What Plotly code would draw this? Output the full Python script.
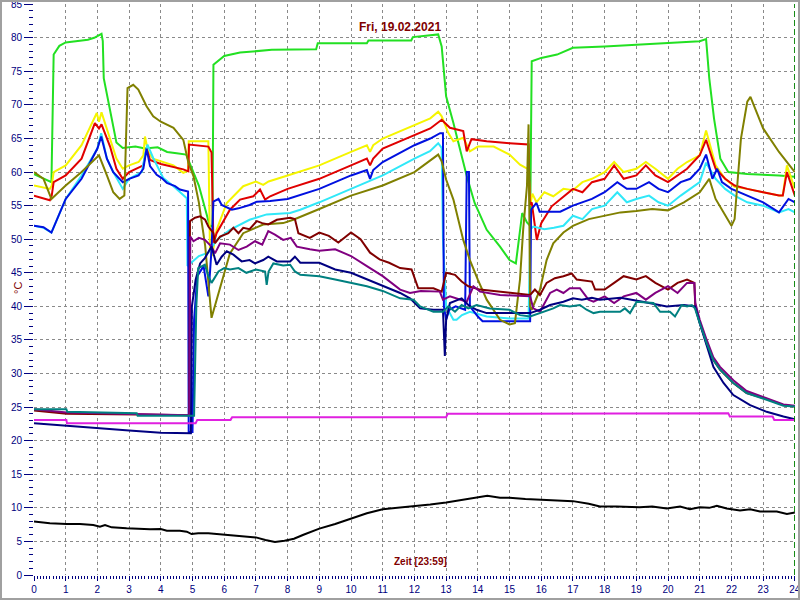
import plotly.graph_objects as go

# ---------------- data (hours, °C) ----------------
HOUR_TICKS = list(range(0, 25))
TEMP_TICKS = list(range(0, 90, 5))
TITLE = "Fri, 19.02.2021"
XLABEL = "Zeit [23:59]"
YLABEL = "°C"

green_t = [0, 0.55, 0.62, 0.8, 1.0, 1.3, 1.7, 1.9, 2.13, 2.17, 2.2, 2.6, 2.8, 3.2, 3.5, 3.9, 4.2, 4.5, 4.8,
           5.2, 5.55, 5.63, 5.66, 6.0, 6.5, 7.5, 8.9, 8.95, 10.5, 10.55, 11.9, 11.95, 12.75, 12.86, 13.0,
           13.23, 13.5, 13.65, 13.9, 14.28, 14.7, 15.0, 15.2, 15.4, 15.55, 15.65, 15.7, 16.0, 16.5, 17.0,
           18.0, 19.0, 20.0, 21.0, 21.2, 21.3, 21.45, 21.65, 21.9, 22.5, 23.5, 24.0]
green_v = [59.7, 58.5, 77.5, 78.8, 79.3, 79.5, 79.7, 80.0, 80.6, 79.5, 74.0, 64.4, 63.6, 63.8, 63.5, 63.7, 63.0,
           62.8, 62.6, 58.0, 51.9, 52.0, 76.0, 77.3, 77.8, 78.2, 78.3, 79.2, 79.2, 79.6, 79.6, 80.1, 80.5,
           78.7, 71.3, 67.3, 62.3, 59.4, 55.4, 51.4, 48.9, 46.9, 46.4, 53.9, 52.5, 52.0, 76.5, 77.0, 77.5,
           78.5, 78.7, 79.0, 79.2, 79.5, 79.8, 74.0, 68.0, 62.0, 60.0, 59.7, 59.5, 59.3]

yellow_t = [0, 0.5, 0.56, 0.62, 1.0, 1.5, 1.98, 2.05, 2.13, 2.4, 2.6, 2.8, 3.0, 3.3, 3.45, 3.5, 3.6, 3.75,
            4.1, 4.4, 4.71, 4.86, 4.88, 5.5, 5.55, 5.62, 5.76, 6.08, 6.6, 7.0, 7.23, 7.4, 8.0, 9.0, 10.0,
            10.5, 10.6, 10.7, 11.0, 12.0, 12.5, 12.75, 12.86, 13.07, 13.23, 13.54, 13.75, 14.0, 14.5, 15.0,
            15.33, 15.6, 15.65, 15.72, 15.85, 16.1, 16.38, 16.7, 17.0, 17.3, 17.6, 18.0, 18.3, 18.6, 19.0,
            19.3, 19.6, 20.0, 20.3, 20.6, 21.0, 21.2, 21.5, 21.8, 22.1, 22.5, 23.0, 23.5, 23.62, 23.75, 24.0]
yellow_v = [58.0, 57.5, 58.0, 60.0, 61.0, 64.0, 68.8, 67.5, 68.9, 64.8, 62.0, 60.5, 61.0, 61.5, 62.5, 65.3,
            63.0, 62.0, 61.5, 61.0, 59.9, 60.2, 64.6, 64.6, 48.4, 47.5, 51.4, 55.4, 57.9, 58.6, 58.1, 58.6,
            59.5, 61.0, 63.0, 64.0, 63.0, 64.0, 65.0, 67.0, 68.0, 69.0, 68.3, 65.8, 64.6, 65.1, 63.1, 63.8,
            63.8, 62.6, 61.1, 60.4, 55.0, 56.8, 55.5, 57.0, 56.4, 57.5, 57.3, 58.5, 59.0, 60.0, 61.5, 60.0,
            60.5, 61.5, 60.5, 59.0, 60.5, 61.5, 62.5, 66.2, 61.0, 59.0, 57.8, 57.5, 57.0, 56.5, 56.5, 61.0, 57.5]

red_t = [0, 0.5, 0.56, 0.62, 1.0, 1.5, 1.92, 2.05, 2.13, 2.4, 2.6, 2.8, 3.0, 3.2, 3.45, 3.55, 3.66, 4.0, 4.4,
         4.71, 4.87, 4.89, 5.5, 5.6, 5.66, 5.76, 6.18, 6.5, 6.92, 7.13, 7.29, 7.45, 8.0, 9.0, 10.0, 10.5,
         10.6, 10.7, 11.0, 12.0, 12.5, 12.86, 13.12, 13.54, 13.65, 13.8, 14.28, 15.0, 15.6, 15.64, 15.7,
         15.86, 16.0, 16.33, 16.6, 17.0, 17.3, 17.6, 18.0, 18.3, 18.6, 19.0, 19.3, 19.6, 20.0, 20.3, 20.6,
         21.0, 21.2, 21.5, 21.8, 22.1, 22.5, 23.0, 23.5, 23.62, 23.75, 24.0]
red_v = [56.5, 55.8, 56.5, 58.5, 59.5, 62.0, 67.3, 66.5, 67.1, 63.8, 60.5, 59.0, 60.0, 60.5, 61.0, 63.5, 61.8,
         61.2, 60.8, 60.4, 60.1, 64.1, 63.8, 62.9, 49.4, 50.9, 54.4, 55.9, 56.4, 57.4, 55.9, 56.4, 57.5,
         59.0, 61.0, 62.0, 61.0, 62.0, 63.5, 65.5, 66.5, 67.8, 66.6, 66.1, 63.1, 64.9, 64.6, 64.3, 64.1,
         55.1, 55.5, 49.9, 52.4, 54.9, 56.0, 57.5, 57.0, 58.5, 59.0, 61.0, 59.0, 59.5, 61.0, 59.5, 58.5,
         59.5, 60.5, 62.5, 64.8, 60.5, 59.0, 58.0, 57.5, 57.0, 56.5, 56.5, 60.0, 56.5]

cyan_t = [0, 0.3, 0.55, 1.0, 1.5, 2.0, 2.12, 2.3, 2.5, 2.8, 3.0, 3.4, 3.5, 3.58, 3.76, 4.08, 4.4, 4.6, 4.82,
          4.84, 5.2, 5.5, 5.76, 6.18, 6.8, 7.34, 8.08, 8.4, 9.0, 10.0, 11.0, 12.0, 12.49, 12.75, 12.86, 12.9,
          13.0, 13.23, 13.33, 13.5, 13.75, 14.28, 15.0, 15.6, 15.66, 15.75, 16.1, 16.4, 16.7, 17.0, 17.3,
          17.6, 18.0, 18.4, 18.7, 19.0, 19.4, 19.7, 20.0, 20.4, 20.7, 21.0, 21.2, 21.5, 21.8, 22.1, 22.5,
          23.0, 23.5, 23.8, 24.0]
cyan_v = [52.0, 51.7, 51.0, 56.0, 59.5, 63.5, 65.8, 62.0, 60.0, 57.5, 59.0, 60.0, 62.5, 64.1, 62.1, 59.1,
          57.9, 57.1, 56.1, 46.0, 47.5, 48.0, 49.9, 51.4, 52.9, 53.7, 53.9, 54.4, 55.5, 57.5, 59.5, 62.0,
          63.1, 64.3, 63.6, 50.0, 40.0, 38.0, 38.0, 38.7, 39.2, 38.5, 38.2, 38.2, 51.5, 51.9, 51.5, 51.7,
          52.0, 53.5, 53.0, 54.5, 55.0, 57.0, 55.5, 56.0, 56.5, 55.5, 55.0, 56.5, 57.5, 58.5, 61.4, 59.0,
          57.5, 56.5, 55.5, 55.0, 54.0, 54.5, 54.0]

blue_t = [0, 0.3, 0.55, 1.0, 1.5, 2.0, 2.12, 2.3, 2.5, 2.8, 3.0, 3.3, 3.45, 3.55, 3.66, 3.87, 4.03, 4.19,
          4.45, 4.6, 4.86, 4.88, 5.0, 5.05, 5.15, 5.35, 5.5, 5.6, 5.66, 5.82, 5.92, 6.24, 6.45, 6.8, 7.03,
          7.45, 8.0, 9.0, 10.0, 10.5, 10.6, 10.7, 11.0, 12.0, 12.5, 12.81, 12.9, 12.93, 13.0, 13.1, 13.3,
          13.6, 13.65, 13.72, 13.75, 14.0, 14.15, 15.65, 15.68, 15.85, 15.95, 16.6, 17.0, 17.3, 17.6, 18.0,
          18.4, 18.7, 19.0, 19.4, 19.7, 20.0, 20.4, 20.7, 21.0, 21.2, 21.4, 21.55, 21.7, 22.0, 22.5, 23.0,
          23.5, 23.8, 24.0]
blue_v = [52.0, 51.8, 51.0, 56.0, 59.0, 63.5, 65.3, 62.0, 60.0, 58.5, 59.0, 59.5, 60.5, 63.5, 60.9, 59.6,
          59.1, 58.4, 57.9, 57.4, 57.1, 21.3, 21.3, 38.0, 44.5, 46.0, 41.5, 48.5, 55.6, 56.0, 55.1, 54.4,
          54.6, 55.1, 55.6, 55.7, 56.0, 57.5, 59.5, 60.3, 59.0, 60.3, 61.5, 64.0, 65.0, 65.8, 65.8, 40.0,
          38.0, 39.5, 40.0, 39.5, 60.0, 60.0, 40.0, 38.5, 37.8, 37.8, 54.4, 55.4, 54.1, 54.1, 55.0, 55.5,
          56.0, 57.0, 58.5, 57.5, 57.5, 58.5, 57.5, 57.0, 58.5, 59.0, 60.5, 62.6, 59.0, 60.5, 58.5, 57.5,
          56.5, 55.5, 54.0, 56.0, 55.5]

olive_t = [0, 0.3, 0.55, 1.0, 1.5, 2.05, 2.3, 2.5, 2.7, 2.85, 2.95, 3.13, 3.29, 3.55, 3.76, 4.0, 4.4, 4.71,
           4.87, 5.03, 5.2, 5.4, 5.6, 5.82, 6.18, 6.6, 7.23, 7.86, 8.18, 9.0, 10.0, 11.0, 12.0, 12.75, 12.86,
           13.0, 13.23, 13.54, 13.75, 14.0, 14.28, 14.7, 15.0, 15.17, 15.33, 15.43, 15.55, 15.6, 15.65, 15.7,
           15.96, 16.17, 16.38, 16.7, 17.0, 17.5, 18.0, 18.5, 19.0, 19.5, 20.0, 20.5, 21.0, 21.3, 21.5, 21.8,
           22.0, 22.1, 22.3, 22.5, 22.6, 23.0, 23.5, 24.0]
olive_v = [60.0, 59.0, 56.0, 58.0, 60.0, 62.5, 59.5, 57.0, 56.0, 56.5, 72.5, 73.0, 72.3, 69.8, 68.3, 67.5,
           66.6, 64.8, 61.4, 59.4, 55.5, 49.0, 38.3, 42.0, 47.9, 50.9, 52.2, 52.4, 52.9, 54.5, 56.5, 58.0,
           60.0, 62.6, 61.6, 58.9, 55.9, 49.9, 46.9, 44.0, 41.0, 38.0, 37.3, 37.5, 44.0, 51.4, 57.9, 67.1,
           40.0, 39.5, 42.5, 46.9, 49.4, 51.0, 52.0, 53.0, 53.5, 54.0, 54.2, 54.5, 54.3, 55.5, 57.0, 59.0,
           56.0, 53.5, 52.0, 53.0, 65.0, 70.5, 71.2, 66.5, 63.0, 60.0]

maroon_t = [0, 1.03, 3.25, 4.9, 4.92, 5.08, 5.24, 5.4, 5.5, 5.66, 5.71, 5.87, 6.13, 6.29, 6.45, 6.6, 6.8,
            7.03, 7.2, 7.39, 7.66, 8.08, 8.23, 8.34, 8.7, 9.0, 9.3, 9.6, 10.0, 10.3, 10.6, 10.9, 11.2, 11.55,
            11.91, 12.12, 12.6, 12.86, 13.0, 13.28, 13.49, 13.7, 14.07, 15.0, 15.65, 15.8, 15.96, 16.17,
            16.43, 16.7, 16.96, 17.12, 17.6, 17.7, 18.0, 18.3, 18.6, 19.0, 19.3, 19.6, 20.0, 20.3, 20.6,
            20.83, 20.86, 21.0, 21.22, 21.43, 21.64, 22.06, 22.48, 23.11, 23.64, 24.0]
maroon_v = [24.5, 24.0, 23.9, 23.8, 52.7, 53.2, 53.4, 52.9, 51.9, 50.9, 49.4, 50.4, 50.9, 51.7, 50.9, 51.7,
            51.5, 52.7, 52.4, 52.2, 52.9, 53.2, 53.0, 50.9, 50.2, 51.0, 50.5, 49.5, 51.0, 50.0, 48.0, 47.0,
            46.5, 45.7, 45.5, 42.7, 42.7, 42.2, 45.0, 44.7, 43.7, 43.0, 42.5, 42.0, 41.7, 42.5, 41.7, 43.5,
            44.2, 44.5, 44.9, 44.0, 43.7, 42.5, 42.5, 43.5, 44.5, 44.0, 44.5, 43.5, 42.5, 43.5, 44.0, 43.5,
            40.0, 37.6, 34.4, 32.0, 30.6, 28.6, 27.1, 26.2, 25.3, 25.1]

purple_t = [0, 1.03, 4.9, 4.93, 5.03, 5.2, 5.39, 5.6, 5.71, 5.87, 6.18, 6.45, 6.71, 6.97, 7.2, 7.39, 7.6,
            7.86, 8.1, 8.29, 8.7, 9.0, 9.5, 10.0, 10.5, 11.0, 11.55, 11.86, 12.2, 12.8, 12.9, 13.12, 13.65,
            13.86, 14.07, 14.7, 15.65, 15.75, 15.96, 16.28, 16.49, 16.7, 16.9, 17.22, 17.49, 17.65, 18.0,
            18.3, 18.6, 19.0, 19.3, 19.6, 20.0, 20.3, 20.6, 20.83, 20.86, 21.0, 21.22, 21.43, 21.64, 22.06,
            22.48, 23.11, 23.64, 24.0]
purple_v = [24.7, 24.2, 23.8, 50.4, 49.7, 50.2, 49.9, 48.9, 47.9, 49.4, 49.2, 48.4, 48.9, 49.7, 49.2, 51.2,
            50.7, 49.9, 50.2, 48.9, 48.5, 48.3, 48.5, 47.5, 46.0, 44.5, 42.5, 42.0, 42.3, 42.2, 41.0, 41.5,
            40.7, 43.0, 42.2, 41.7, 41.5, 39.7, 39.2, 42.0, 42.5, 42.0, 42.7, 42.7, 41.0, 40.7, 41.5, 40.5,
            41.5, 42.0, 41.0, 42.0, 43.0, 42.0, 43.5, 43.5, 40.5, 38.0, 35.0, 32.4, 31.0, 29.0, 27.4, 26.3,
            25.4, 25.2]

navy_t = [0, 1, 2, 3, 4, 4.95, 4.98, 5.1, 5.24, 5.39, 5.6, 5.76, 5.92, 6.08, 6.29, 6.55, 6.8, 6.97, 7.23,
          7.39, 7.66, 8.08, 8.23, 8.4, 9.0, 9.5, 10.0, 10.5, 11.0, 11.55, 11.86, 12.18, 12.6, 12.9, 12.96,
          13.0, 13.12, 13.49, 13.7, 13.96, 14.28, 15.65, 15.96, 16.28, 16.7, 17.0, 17.28, 17.6, 17.85, 18.5,
          19.2, 19.96, 20.5, 20.85, 21.0, 21.22, 21.43, 21.75, 22.06, 22.59, 23.11, 23.64, 24.0]
navy_v = [22.6, 22.2, 21.8, 21.5, 21.2, 21.1, 40.0, 44.0, 46.4, 47.2, 48.9, 46.2, 47.4, 48.2, 47.7, 46.7,
          46.9, 46.4, 46.9, 47.4, 46.7, 46.7, 47.4, 46.5, 46.5, 45.5, 45.0, 44.0, 43.0, 42.0, 41.2, 39.7,
          39.5, 39.5, 32.6, 38.0, 40.5, 41.2, 40.2, 39.5, 39.0, 39.0, 39.5, 40.2, 40.7, 41.2, 41.0, 41.3,
          41.0, 41.3, 40.7, 40.0, 40.2, 40.0, 37.5, 34.0, 31.0, 28.6, 26.8, 25.3, 24.3, 23.6, 23.2]

teal_t = [0, 1.02, 1.05, 3.24, 3.27, 5.05, 5.12, 5.18, 5.39, 5.5, 5.6, 5.82, 6.0, 6.18, 6.45, 6.7, 7.0, 7.29,
          7.34, 7.4, 7.55, 7.86, 8.08, 8.23, 8.4, 9.0, 9.5, 10.0, 10.5, 11.0, 11.55, 11.97, 12.18, 12.6, 12.9,
          13.07, 13.28, 13.49, 13.7, 13.96, 14.38, 15.0, 15.33, 15.65, 15.96, 16.38, 16.59, 16.9, 17.22,
          17.43, 17.65, 17.85, 18.49, 18.64, 18.8, 19.01, 19.54, 19.75, 20.06, 20.22, 20.43, 20.6, 20.75,
          20.85, 21.0, 21.22, 21.43, 21.64, 22.06, 22.48, 23.11, 23.64, 24.0]
teal_v = [24.7, 24.7, 24.3, 24.1, 23.7, 23.7, 40.0, 45.7, 46.2, 44.5, 43.5, 45.2, 45.7, 45.5, 45.7, 45.0,
          45.5, 45.2, 43.2, 45.2, 46.4, 46.1, 46.2, 45.2, 44.7, 44.5, 44.0, 43.5, 43.0, 42.3, 41.2, 41.0,
          40.0, 39.2, 39.2, 40.0, 39.2, 40.2, 39.7, 40.2, 39.7, 39.5, 38.7, 38.5, 39.0, 39.7, 40.2, 40.0,
          40.2, 39.5, 39.0, 39.2, 39.2, 39.7, 39.0, 40.7, 40.5, 39.2, 39.2, 38.5, 40.2, 40.0, 40.2, 39.7,
          37.5, 34.5, 32.0, 30.6, 28.6, 27.1, 26.1, 25.2, 25.1]

magenta_t = [0, 1.02, 1.04, 5.1, 5.15, 6.2, 6.25, 13.0, 13.05, 21.9, 21.95, 23.3, 23.35, 24.0]
magenta_v = [23.1, 23.1, 22.6, 22.6, 23.1, 23.1, 23.5, 23.5, 24.0, 24.1, 23.6, 23.6, 23.1, 23.1]

black_t = [0, 0.5, 1.03, 1.45, 1.87, 2.08, 2.24, 2.45, 2.92, 3.66, 4.0, 4.19, 4.6, 4.82, 4.97, 5.18, 5.5,
           6.0, 6.5, 7.0, 7.3, 7.6, 7.9, 8.2, 8.5, 9.0, 9.5, 10.0, 10.5, 11.0, 11.5, 12.0, 12.5, 13.0, 13.5,
           14.0, 14.3, 14.7, 15.0, 15.5, 16.0, 16.5, 17.0, 17.5, 17.85, 18.38, 19.1, 19.5, 19.96, 20.38,
           20.69, 21.0, 21.3, 21.54, 21.85, 22.27, 22.59, 22.9, 23.43, 23.75, 24.0]
black_v = [7.95, 7.7, 7.6, 7.6, 7.45, 7.2, 7.45, 7.1, 6.95, 6.8, 6.85, 6.6, 6.6, 6.45, 6.1, 6.2, 6.2, 6.0,
           5.9, 5.6, 5.2, 4.9, 5.1, 5.4, 6.0, 6.9, 7.6, 8.4, 9.2, 9.8, 10.0, 10.2, 10.5, 10.8, 11.2, 11.6,
           11.8, 11.5, 11.5, 11.3, 11.2, 11.2, 11.0, 10.6, 10.2, 10.2, 10.1, 10.2, 9.9, 10.2, 9.8, 10.1,
           10.0, 10.3, 9.9, 9.6, 9.8, 9.45, 9.45, 9.1, 9.3]

# ---------------- styling ----------------
series = [
    (green_t, green_v, "#22e022"),
    (yellow_t, yellow_v, "#f5f500"),
    (red_t, red_v, "#e00000"),
    (cyan_t, cyan_v, "#30e8f8"),
    (blue_t, blue_v, "#0010e0"),
    (olive_t, olive_v, "#808000"),
    (maroon_t, maroon_v, "#800000"),
    (purple_t, purple_v, "#800080"),
    (navy_t, navy_v, "#000080"),
    (teal_t, teal_v, "#008080"),
    (magenta_t, magenta_v, "#e020e0"),
    (black_t, black_v, "#000000"),
]

fig = go.Figure()
for t, v, c in series:
    fig.add_trace(go.Scatter(x=t, y=v, mode="lines", line=dict(color=c, width=2),
                             showlegend=False, hoverinfo="skip"))

L, R, T, B = 34, 5, 4, 25
W, H = 800, 600
pw, ph = W - L - R, H - T - B
X_MAX, Y_MAX = 24.005, 85.03

navy = "#000080"
dark_red = "#800000"
tickfont = dict(family="Liberation Sans, Arial, sans-serif", size=10, color=navy)

fig.update_layout(
    width=W, height=H,
    margin=dict(l=L, r=R, t=T, b=B, pad=0, autoexpand=False),
    paper_bgcolor="white", plot_bgcolor="white",
    hovermode=False,
    xaxis=dict(range=[0, X_MAX], tickvals=HOUR_TICKS, ticks="outside", ticklen=5, tickcolor=navy,
               tickwidth=1, tickfont=tickfont, showgrid=True, gridcolor="#8a8a8a", gridwidth=1,
               griddash="3px,3px", zeroline=False, showline=False, fixedrange=True,
               ticklabeloverflow="allow", automargin=False,
               minor=dict(dtick=0.1, ticks="outside", ticklen=3, tickcolor=navy, showgrid=False)),
    yaxis=dict(range=[0, Y_MAX], tickvals=TEMP_TICKS, ticks="outside", ticklen=9, tickcolor=navy,
               tickwidth=1, tickfont=tickfont, showgrid=True, gridcolor="#8a8a8a", gridwidth=1,
               griddash="3px,3px", zeroline=False, showline=False, fixedrange=True,
               ticklabeloverflow="allow", automargin=False,
               minor=dict(dtick=1, ticks="outside", ticklen=4, tickcolor=navy, showgrid=False)),
    shapes=[
        dict(type="line", xref="x", yref="paper", x0=24, x1=24, y0=0, y1=1,
             line=dict(color="#008000", width=1.5, dash="6px,3px")),
        dict(type="rect", xref="paper", yref="paper",
             x0=(-L + 1) / pw, x1=(W - L - 1) / pw, y0=(-B + 1) / ph, y1=(H - B - 1) / ph,
             line=dict(color="#a0a0a0", width=2)),
    ],
    annotations=[
        dict(text="<b>" + TITLE + "</b>", xref="paper", yref="paper",
             x=(400 - L) / pw, y=(H - B - 18) / ph, showarrow=False,
             font=dict(family="Liberation Sans, Arial, sans-serif", size=12, color=dark_red)),
        dict(text="<b>" + XLABEL + "</b>", xref="paper", yref="paper",
             x=(420 - L) / pw, y=(H - B - 569) / ph, showarrow=False,
             font=dict(family="Liberation Sans, Arial, sans-serif", size=10, color=dark_red)),
        dict(text=YLABEL, xref="paper", yref="paper", textangle=-90,
             x=(10 - L) / pw, y=(H - B - 288) / ph, showarrow=False,
             font=dict(family="Liberation Sans, Arial, sans-serif", size=11, color=dark_red)),
    ],
)

fig.write_html("out.html", config={"displayModeBar": False},
               post_script="document.body.style.margin='0';document.body.style.overflow='hidden';")
